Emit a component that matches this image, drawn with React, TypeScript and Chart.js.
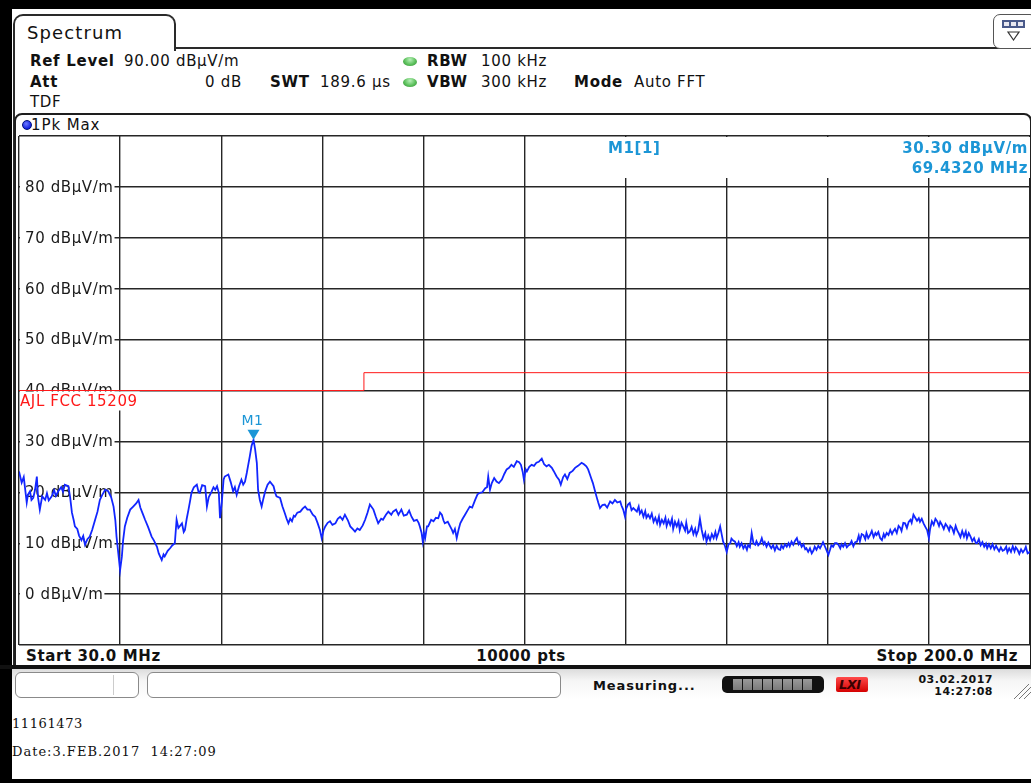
import React, { useEffect, useRef } from "react";
import { Chart, registerables } from "chart.js";

Chart.register(...registerables);

// ---------- data ----------
const FREQ_START_MHZ = 30;
const FREQ_STOP_MHZ = 200;
const LEVEL_MIN = -10;
const LEVEL_MAX = 90;
const X_GRID_MHZ = [30, 47, 64, 81, 98, 115, 132, 149, 166, 183, 200];
const Y_TICK_LEVELS = [80, 70, 60, 50, 40, 30, 20, 10, 0];
const Y_TICK_LABELS = ["80 dBµV/m", "70 dBµV/m", "60 dBµV/m", "50 dBµV/m", "40 dBµV/m", "30 dBµV/m", "20 dBµV/m", "10 dBµV/m", "0 dBµV/m"];
const LIMIT_NAME = "AJL FCC 15209";
const LIMIT_FREQ_MHZ = [30, 88, 88, 200];
const LIMIT_LEVEL = [40, 40, 43.5, 43.5];
const MARKER_NAME = "M1";
const MARKER_FREQ_MHZ = 69.432;
const MARKER_LEVEL = 30.3;

const TRACE_FREQ_MHZ = [
  30.0, 30.45, 30.8, 31.3, 31.5, 31.85, 32.1, 32.4, 32.7, 33.0, 33.2, 33.5, 33.9, 34.4, 34.7, 35.0, 35.5, 35.9, 36.2, 36.6,
  37.1, 37.4, 37.7, 38.3, 38.6, 38.9, 39.2, 39.4, 39.8, 40.1, 40.5, 40.8, 41.1, 41.5, 41.9, 42.3, 42.8, 43.2, 43.6, 44.0,
  44.5, 45.0, 45.5, 45.9, 46.2, 46.4, 46.7, 47.0, 47.3, 47.5, 47.8, 48.2, 48.7, 49.2, 49.7, 50.1, 50.4, 50.8, 51.2, 51.7,
  52.3, 52.7, 53.2, 53.5, 54.0, 54.3, 54.5, 55.0, 55.4, 55.8, 56.2, 56.5, 56.8, 57.4, 57.7, 57.9, 58.2, 58.5, 58.8, 59.0,
  59.4, 59.9, 60.2, 60.4, 60.8, 61.3, 61.6, 61.9, 62.4, 62.7, 63.0, 63.3, 63.6, 63.8, 64.1, 64.4,
  64.6, 65.2, 65.6, 66.0, 66.3, 66.6, 67.0, 67.4, 67.7, 68.0, 68.3, 68.5, 68.8, 69.1, 69.432, 69.7, 69.99, 70.2, 70.5, 70.8,
  71.1, 71.4, 71.8, 72.2, 72.8, 73.1, 73.3, 73.9, 74.3, 74.7, 75.0, 75.3, 75.6, 75.9, 76.2, 76.4, 76.8, 77.3, 77.7, 78.1,
  78.5, 78.9, 79.4, 79.8, 80.2, 80.6, 80.9, 81.2, 81.5, 81.9, 82.3, 82.7, 83.2, 83.6, 84.0, 84.4, 84.8, 85.3, 85.7, 86.1,
  86.5, 86.9, 87.3, 87.8, 88.2, 88.6, 89.0, 89.6, 90.0, 90.4, 90.9, 91.2, 91.7, 92.1, 92.6, 92.9, 93.4, 93.8, 94.1, 94.3,
  94.7, 95.2, 95.6, 96.0, 96.4, 96.9, 97.2, 97.4, 97.7, 97.9, 98.1, 98.3, 98.6,
  98.8, 99.3, 99.7, 100.1, 100.5, 100.8, 101.1, 101.4, 101.6, 102.1, 102.5, 102.8, 103.0, 103.3, 103.6, 103.9, 104.2, 104.6, 105.0, 105.4,
  105.8, 106.2, 106.7, 107.1, 107.5, 107.9, 108.4, 108.7, 108.9, 109.2, 109.5, 109.9, 110.3, 110.7, 111.2, 111.6, 112.0, 112.4, 112.8, 113.2,
  113.7, 114.1, 114.4, 114.7, 114.9, 115.2, 115.4, 115.8, 116.2, 116.6, 117.0, 117.4, 117.9, 118.3, 118.7, 119.1, 119.6, 119.9, 120.4, 120.8,
  121.1, 121.5, 121.8, 122.2, 122.6, 123.1, 123.5, 124.0, 124.6, 125.0, 125.4, 125.7, 126.0, 126.2, 126.5, 126.8, 127.1, 127.4, 127.7, 128.1,
  128.5, 128.9, 129.4, 129.8, 130.2, 130.6, 131.1, 131.3, 131.6, 131.9, 132.1, 132.4, 132.7, 133.0, 133.3,
  133.9, 134.2, 134.4, 134.7, 135.0, 135.3, 135.5, 135.8, 136.1, 136.4, 136.7, 137.0, 137.3, 137.6, 137.8, 138.1, 138.4, 138.7, 138.9, 139.2,
  139.5, 139.8, 140.0, 140.3, 140.6, 140.9, 141.1, 141.4, 141.7, 142.0, 142.2, 142.5, 142.8, 143.1, 143.4, 143.7, 143.9, 144.2, 144.5, 144.8,
  145.1, 145.4, 145.6, 145.9, 146.2, 146.5, 146.8, 147.1, 147.3, 147.6, 147.9, 148.2, 148.4, 148.7, 149.0, 149.3, 149.6, 149.8, 150.1, 150.4,
  150.7, 151.0, 151.2, 151.5, 151.8, 152.1, 152.4, 152.6, 152.9, 153.2, 153.5, 153.8, 154.0, 154.3, 154.6, 154.9, 155.2, 155.4, 155.7, 156.0,
  156.3, 156.5, 156.8, 157.1, 157.4, 157.7, 158.0, 158.2, 158.5, 158.8, 159.1, 159.4, 159.6, 159.9, 160.2, 160.5, 160.8, 161.1, 161.3, 161.6,
  161.9, 162.2, 162.4, 162.7, 163.0, 163.3, 163.6, 163.8, 164.1, 164.4, 164.7, 165.0, 165.2, 165.5, 165.8, 166.1, 166.4, 166.6, 166.9, 167.2,
  167.5, 167.8,
  168.1, 168.3, 168.6, 168.9, 169.2, 169.5, 169.7, 170.0, 170.3, 170.6, 170.9, 171.2, 171.4, 171.7, 172.0, 172.3, 172.5, 172.8, 173.1, 173.4,
  173.7, 174.0, 174.2, 174.5, 174.8, 175.1, 175.4, 175.6, 175.9, 176.2, 176.5, 176.8, 177.0, 177.3, 177.6, 177.9, 178.2, 178.4, 178.7, 179.0,
  179.3, 179.6, 179.9, 180.1, 180.4, 180.7, 181.0, 181.3, 181.5, 181.8, 182.1, 182.4, 182.7, 183.0, 183.2, 183.5, 183.8, 184.1, 184.4, 184.7,
  184.9, 185.2, 185.5, 185.8, 186.1, 186.4, 186.6, 186.9, 187.2, 187.5, 187.8, 188.0, 188.3, 188.6, 188.9, 189.2, 189.4, 189.7, 190.0, 190.3,
  190.6, 190.9, 191.1, 191.4, 191.7, 192.0, 192.3, 192.6, 192.8, 193.1, 193.4, 193.7, 194.0, 194.3, 194.5, 194.8, 195.1, 195.4, 195.7, 196.0,
  196.2, 196.5, 196.8, 197.1, 197.4, 197.6, 197.9, 198.2, 198.5, 198.8, 199.1, 199.3, 199.6, 200.0,
];

const TRACE_LEVEL = [
  24.1, 21.9, 23.0, 18.0, 19.5, 20.2, 18.5, 18.9, 20.5, 23.1, 19.0, 16.6, 19.2, 18.5, 19.8, 18.4, 19.2, 20.4, 19.3, 20.2,
  21.0, 20.1, 21.5, 21.2, 19.0, 16.0, 14.5, 13.3, 12.8, 11.5, 10.6, 11.4, 9.7, 10.8, 11.3, 12.6, 14.6, 16.2, 18.5, 19.5,
  20.5, 20.2, 19.0, 17.2, 14.5, 11.3, 8.0, 4.7, 7.4, 10.5, 13.3, 15.0, 16.6, 17.2, 17.8, 18.5, 17.0, 15.8, 14.6, 13.2,
  11.3, 10.5, 9.3, 8.0, 6.7, 7.8, 7.4, 8.5, 9.0, 9.6, 10.0, 14.6, 13.0, 13.9, 12.2, 12.6, 14.8, 16.6, 18.5, 19.9,
  21.0, 21.5, 20.0, 19.9, 21.4, 21.2, 17.2, 19.0, 20.2, 21.0, 20.5, 21.2, 19.9, 14.9, 18.0, 22.5,
  23.1, 23.5, 22.0, 20.2, 21.0, 19.5, 21.2, 22.5, 21.5, 22.1, 23.8, 25.1, 27.0, 29.1, 30.3, 28.5, 25.8, 20.5, 18.5, 17.2,
  18.8, 20.2, 21.5, 22.1, 21.2, 19.8, 19.2, 18.9, 17.2, 15.9, 14.8, 13.9, 14.8, 14.3, 15.4, 15.2, 16.0, 16.2, 16.8, 17.2,
  16.6, 16.6, 15.6, 15.2, 14.0, 12.6, 11.0, 12.5, 13.3, 14.0, 14.3, 13.6, 13.9, 14.8, 15.2, 14.6, 15.6, 14.5, 13.3, 12.8,
  12.3, 12.9, 12.6, 13.5, 14.6, 16.0, 17.6, 16.6, 15.2, 13.9, 14.8, 14.6, 15.6, 16.2, 15.6, 16.2, 16.6, 15.6, 16.2, 16.6,
  15.4, 15.6, 16.4, 15.2, 14.4, 14.6, 14.0, 13.3, 12.0, 10.3, 12.0, 11.0, 13.3,
  13.3, 14.6, 14.3, 15.0, 14.9, 16.0, 15.6, 14.4, 13.9, 14.2, 13.3, 12.6, 12.0, 12.8, 11.0, 12.6, 13.9, 14.8, 15.6, 16.4,
  17.2, 17.0, 18.5, 19.6, 19.9, 20.0, 20.8, 21.0, 23.1, 20.5, 21.8, 22.8, 22.1, 21.8, 22.5, 23.6, 24.5, 24.8, 25.4, 25.0,
  26.1, 25.9, 25.4, 24.0, 22.5, 24.5, 24.1, 25.0, 25.4, 25.2, 25.8, 26.0, 26.6, 25.5, 25.1, 25.4, 24.8, 24.2, 23.1, 22.5,
  21.5, 23.0, 23.5, 22.6, 23.8, 24.2, 24.8, 25.2, 25.8, 25.5, 25.1, 24.5, 23.5, 22.8, 21.8, 20.5, 19.2, 18.0, 16.9, 17.5,
  17.6, 17.0, 18.2, 17.8, 18.5, 18.0, 18.2, 17.4, 16.6, 15.2, 16.8, 17.6, 17.9, 16.5, 16.9,
  16.2, 17.2, 15.8, 16.4, 15.2, 16.3, 15.0, 15.6, 14.9, 15.8, 14.2, 15.0, 13.9, 15.2, 13.6, 14.6, 13.9, 15.0, 13.4, 14.5,
  13.6, 14.8, 12.8, 14.2, 13.3, 14.3, 12.6, 14.0, 13.3, 12.5, 14.0, 12.0, 12.3, 13.2, 11.8, 12.8, 11.6, 12.5, 14.8, 12.6,
  11.0, 12.0, 10.3, 11.5, 10.6, 11.8, 11.0, 12.2, 11.0, 12.0, 13.3, 11.5, 10.3, 9.5, 8.3, 9.8, 10.0, 10.9, 10.5, 10.3,
  9.4, 10.2, 9.3, 10.0, 9.0, 9.6, 8.7, 9.6, 9.2, 12.0, 10.0, 9.7, 10.4, 9.6, 10.0, 11.0, 9.8, 10.2, 9.3, 10.1,
  9.4, 9.0, 9.6, 8.6, 9.5, 8.8, 8.7, 9.6, 9.0, 9.8, 9.3, 10.0, 9.4, 10.3, 9.7, 10.5, 11.0, 9.8, 10.2, 9.3,
  9.8, 8.8, 9.0, 8.3, 9.0, 8.0, 8.6, 9.3, 8.7, 9.5, 9.0, 9.7, 10.2, 9.4, 8.6, 7.7, 8.8, 9.6, 9.3, 10.0,
  10.0, 9.7,
  9.0, 9.8, 9.3, 10.0, 9.2, 9.6, 9.7, 10.4, 9.4, 10.2, 10.3, 11.5, 10.4, 11.8, 11.6, 10.8, 12.0, 11.0, 11.6, 12.4,
  11.2, 12.0, 11.6, 12.2, 11.0, 10.6, 11.8, 11.2, 12.0, 11.6, 12.6, 11.8, 12.3, 12.8, 12.0, 13.4, 13.0, 12.4, 14.0, 13.9,
  13.0, 14.2, 14.6, 14.0, 15.6, 15.0, 14.4, 14.9, 14.2, 14.8, 13.9, 13.2, 12.6, 11.0, 12.8, 14.3, 13.6, 14.8, 14.3, 13.4,
  14.2, 13.6, 12.8, 13.8, 13.3, 12.5, 13.4, 13.0, 12.0, 13.4, 12.4, 12.0, 11.2, 12.4, 11.3, 12.3, 11.0, 12.0, 11.3, 10.4,
  11.0, 10.0, 10.0, 10.8, 9.6, 10.2, 9.3, 9.9, 9.0, 9.8, 9.0, 9.8, 8.8, 9.5, 9.0, 8.4, 9.2, 8.5, 8.7, 9.3,
  8.2, 9.0, 8.3, 9.4, 8.4, 9.2, 8.7, 7.9, 8.8, 8.2, 8.7, 9.3, 8.0, 8.3,
];

// ---------- styling constants ----------
const SANS = '"DejaVu Sans", Verdana, sans-serif';
const SERIF = '"DejaVu Serif", "Liberation Serif", serif';
const INK = "#111";
const MARKER_BLUE = "rgb(28,150,214)";
const TRACE_BLUE = "rgb(18,38,255)";
const LIMIT_RED = "rgb(255,24,24)";

type TxtProps = {
  x: number;
  y: number;
  children: React.ReactNode;
  bold?: boolean;
  size?: number;
  color?: string;
  align?: "left" | "right" | "center";
  ls?: number;
  family?: string;
};

function Txt({ x, y, children, bold, size = 15, color = INK, align = "left", ls = 0.7, family = SANS }: TxtProps) {
  const tx = align === "left" ? "0" : align === "right" ? "-100%" : "-50%";
  return (
    <div
      style={{
        position: "absolute",
        left: x,
        top: y,
        transform: `translate(${tx},-50%)`,
        fontFamily: family,
        fontSize: size,
        fontWeight: bold ? 700 : 400,
        color,
        lineHeight: 1,
        whiteSpace: "pre",
        letterSpacing: ls,
      }}
    >
      {children}
    </div>
  );
}

function Box(props: { l: number; t: number; w: number; h: number; style?: React.CSSProperties; children?: React.ReactNode }) {
  return (
    <div style={{ position: "absolute", left: props.l, top: props.t, width: props.w, height: props.h, boxSizing: "border-box", ...props.style }}>
      {props.children}
    </div>
  );
}

function GreenDot({ x, y }: { x: number; y: number }) {
  return (
    <Box
      l={x - 7}
      t={y - 4}
      w={14}
      h={9}
      style={{ borderRadius: "50%", background: "radial-gradient(ellipse at 50% 30%, #b8f0b8 0%, #5cc05c 55%, #2f8a2f 100%)" }}
    />
  );
}

const overlayPlugin = {
  id: "rsOverlay",
  beforeDatasetsDraw(chart: any) {
    const { ctx, chartArea, scales } = chart;
    const y = scales.y;
    const x = scales.x;
    ctx.save();
    ctx.textBaseline = "middle";
    // y tick labels inside plot with white background
    ctx.font = `15px ${SANS}`;
    (ctx as any).letterSpacing = "0.6px";
    Y_TICK_LEVELS.forEach((v, i) => {
      const py = y.getPixelForValue(v);
      const label = Y_TICK_LABELS[i];
      const w = ctx.measureText(label).width;
      ctx.fillStyle = "#fff";
      ctx.fillRect(chartArea.left + 1, py - 9, 25 - chartArea.left - 1 + w + 1, 18);
      ctx.fillStyle = "#1a1a1a";
      ctx.textAlign = "left";
      ctx.fillText(label, 25, py + 1);
    });
    // limit line label
    const p40 = y.getPixelForValue(LIMIT_LEVEL[0]);
    const lw = ctx.measureText(LIMIT_NAME).width;
    ctx.fillStyle = "#fff";
    ctx.fillRect(chartArea.left + 1, p40 + 1, lw + 2, 19);
    ctx.fillStyle = LIMIT_RED;
    ctx.fillText(LIMIT_NAME, chartArea.left + 1, p40 + 12);
    // marker info box
    const boxL = x.getPixelForValue(X_GRID_MHZ[5]) + 2;
    ctx.fillStyle = "#fff";
    ctx.fillRect(boxL, chartArea.top + 1, chartArea.right - boxL, 41);
    ctx.fillStyle = MARKER_BLUE;
    ctx.font = `bold 15px ${SANS}`;
    ctx.textAlign = "left";
    ctx.fillText(`${MARKER_NAME}[1]`, 608, chartArea.top + 13);
    ctx.textAlign = "right";
    ctx.fillText(`${MARKER_LEVEL.toFixed(2)} dBµV/m`, chartArea.right - 2, chartArea.top + 13);
    ctx.fillText(`${MARKER_FREQ_MHZ.toFixed(4)} MHz`, chartArea.right - 2, chartArea.top + 33);
    ctx.restore();
  },
  afterDatasetsDraw(chart: any) {
    const { ctx, scales } = chart;
    const px = scales.x.getPixelForValue(MARKER_FREQ_MHZ);
    const py = scales.y.getPixelForValue(MARKER_LEVEL);
    ctx.save();
    ctx.fillStyle = MARKER_BLUE;
    ctx.beginPath();
    ctx.moveTo(px - 6, py - 10);
    ctx.lineTo(px + 6, py - 10);
    ctx.lineTo(px, py);
    ctx.closePath();
    ctx.fill();
    ctx.font = `14px ${SANS}`;
    (ctx as any).letterSpacing = "0.5px";
    ctx.textAlign = "center";
    ctx.textBaseline = "middle";
    ctx.fillText(MARKER_NAME, px - 1, py - 19);
    ctx.restore();
  },
};

function SpectrumChart() {
  const ref = useRef<HTMLCanvasElement | null>(null);
  useEffect(() => {
    if (!ref.current) return;
    const chart = new Chart(ref.current, {
      type: "line",
      data: {
        datasets: [
          {
            label: LIMIT_NAME,
            data: LIMIT_FREQ_MHZ.map((f, i) => ({ x: f, y: LIMIT_LEVEL[i] })),
            borderColor: LIMIT_RED,
            borderWidth: 1,
            pointRadius: 0,
            tension: 0,
            order: 2,
          },
          {
            label: "1Pk Max",
            data: TRACE_FREQ_MHZ.map((f, i) => ({ x: f, y: TRACE_LEVEL[i] })),
            borderColor: TRACE_BLUE,
            borderWidth: 1.8,
            borderJoinStyle: "miter",
            pointRadius: 0,
            tension: 0,
            order: 1,
          },
        ],
      },
      options: {
        animation: false,
        responsive: false,
        maintainAspectRatio: false,
        devicePixelRatio: 1,
        layout: { padding: { left: 19, top: 136, right: 1, bottom: 138 } },
        plugins: { legend: { display: false }, tooltip: { enabled: false } },
        scales: {
          x: {
            type: "linear",
            min: FREQ_START_MHZ,
            max: FREQ_STOP_MHZ,
            afterBuildTicks: (s: any) => {
              s.ticks = X_GRID_MHZ.map((v) => ({ value: v }));
            },
            ticks: { display: false },
            grid: { color: "#262626", lineWidth: 1.4, drawTicks: false },
            border: { display: false },
          },
          y: {
            type: "linear",
            min: LEVEL_MIN,
            max: LEVEL_MAX,
            ticks: { display: false, stepSize: 10 },
            grid: { color: "#262626", lineWidth: 1.4, drawTicks: false },
            border: { display: false },
          },
        },
      },
      plugins: [overlayPlugin],
    } as any);
    return () => chart.destroy();
  }, []);
  return <canvas ref={ref} width={1031} height={783} style={{ position: "absolute", left: 0, top: 0, width: 1031, height: 783 }} />;
}

export default function App() {
  return (
    <div style={{ position: "fixed", left: 0, top: 0, width: 1031, height: 783, background: "#fff", overflow: "hidden" }}>
      {/* outer black frame */}
      <Box l={0} t={0} w={1031} h={9} style={{ background: "#000" }} />
      <Box l={0} t={0} w={12} h={783} style={{ background: "#000" }} />
      <Box l={0} t={779} w={1031} h={4} style={{ background: "#000" }} />

      {/* Spectrum tab */}
      <Box l={13} t={14} w={163} h={37} style={{ border: "2px solid #2a2a2a", borderBottom: "none", borderRadius: "10px 10px 0 0", background: "#fff" }} />
      <Box l={174} t={47} w={857} h={2} style={{ background: "#2a2a2a" }} />
      <Box l={13} t={40} w={2} h={628} style={{ background: "#2a2a2a" }} />
      <Txt x={27} y={33} size={18} ls={1.1}>Spectrum</Txt>

      {/* top-right icon */}
      <Box l={993} t={14} w={44} h={35} style={{ border: "1.5px solid #555", borderRadius: 7, background: "#fff" }} />
      <svg style={{ position: "absolute", left: 1000, top: 18 }} width={28} height={26}>
        <rect x={2} y={2} width={23} height={8} fill="#4a5a8a" />
        <rect x={4} y={4} width={5} height={4} fill="#e8e8f0" />
        <rect x={11} y={4} width={5} height={4} fill="#e8e8f0" />
        <rect x={18} y={4} width={5} height={4} fill="#e8e8f0" />
        <polygon points="8,14 19,14 13.5,22" fill="none" stroke="#333" strokeWidth={1.2} />
      </svg>

      {/* header parameters */}
      <Txt x={30} y={61} bold>Ref Level</Txt>
      <Txt x={124} y={61}>90.00 dBµV/m</Txt>
      <GreenDot x={410} y={61} />
      <Txt x={427} y={61} bold>RBW</Txt>
      <Txt x={481} y={61}>100 kHz</Txt>

      <Txt x={30} y={82} bold>Att</Txt>
      <Txt x={242} y={82} align="right">0 dB</Txt>
      <Txt x={270} y={82} bold>SWT</Txt>
      <Txt x={320} y={82}>189.6 µs</Txt>
      <GreenDot x={410} y={82} />
      <Txt x={427} y={82} bold>VBW</Txt>
      <Txt x={481} y={82}>300 kHz</Txt>
      <Txt x={574} y={82} bold>Mode</Txt>
      <Txt x={634} y={82}>Auto FFT</Txt>

      <Txt x={30} y={102}>TDF</Txt>

      {/* diagram frame */}
      <Box l={14} t={113} w={1018} h={556} style={{ border: "2px solid #1e1e1e", borderRadius: "8px 8px 0 0", background: "#fff" }} />
      <Box l={22} t={120} w={10} h={10} style={{ borderRadius: "50%", background: "radial-gradient(circle at 40% 35%, #6f7cff, #1020e0 70%)", border: "1px solid #00107a" }} />
      <Txt x={31} y={125} ls={0.9}>1Pk Max</Txt>

      {/* footer of diagram */}
      <Txt x={26} y={656} bold ls={0.6}>Start 30.0 MHz</Txt>
      <Txt x={521} y={656} bold ls={0.6} align="center">10000 pts</Txt>
      <Txt x={1018} y={656} bold ls={0.6} align="right">Stop 200.0 MHz</Txt>
      <Box l={0} t={665} w={1031} h={4} style={{ background: "#111" }} />

      {/* status bar */}
      <Box l={12} t={669} w={1019} h={30} style={{ background: "linear-gradient(to bottom, #dcdcdc, #f6f6f6 40%, #ffffff)" }} />
      <Box l={15} t={672} w={124} h={26} style={{ border: "1.5px solid #8a8a8a", borderRadius: 6, background: "#fff" }} />
      <Box l={113} t={675} w={1} h={20} style={{ background: "#ccc" }} />
      <Box l={147} t={672} w={414} h={26} style={{ border: "1.5px solid #8a8a8a", borderRadius: 6, background: "#fff" }} />
      <Txt x={593} y={685} bold size={13} ls={0.9}>Measuring...</Txt>
      <Box l={722} t={676} w={102} h={17} style={{ background: "#111", borderRadius: 5 }}>
        <div style={{ position: "absolute", left: 11, top: 3, width: 79, height: 11, display: "flex", gap: 1 }}>
          {[0, 1, 2, 3, 4, 5, 6, 7].map((i) => (
            <div key={i} style={{ flex: 1, background: "linear-gradient(#9a9a9a, #7a7a7a)" }} />
          ))}
        </div>
      </Box>
      <Box l={836} t={677} w={32} h={15} style={{ background: "linear-gradient(#ff4a4a, #d40000)", borderRadius: 2 }}>
        <div style={{ position: "absolute", left: 3, top: 0, fontFamily: SANS, fontSize: 13, fontWeight: 700, fontStyle: "italic", color: "#3a0000", lineHeight: "15px", letterSpacing: -0.5 }}>LXI</div>
      </Box>
      <Txt x={993} y={679} bold size={11} ls={0.5} align="right">03.02.2017</Txt>
      <Txt x={993} y={691} bold size={11} ls={0.5} align="right">14:27:08</Txt>
      <svg style={{ position: "absolute", left: 1012, top: 684 }} width={19} height={16}>
        <line x1={2} y1={15} x2={17} y2={0} stroke="#777" strokeWidth={1} />
        <line x1={7} y1={15} x2={19} y2={3} stroke="#777" strokeWidth={1} />
        <line x1={12} y1={15} x2={19} y2={8} stroke="#777" strokeWidth={1} />
      </svg>

      {/* printout footer */}
      <Txt x={12} y={723} size={13} family={SERIF} ls={0.6}>11161473</Txt>
      <Txt x={12} y={751} size={13} family={SERIF} ls={1}>{"Date:3.FEB.2017  14:27:09"}</Txt>

      <SpectrumChart />
    </div>
  );
}
